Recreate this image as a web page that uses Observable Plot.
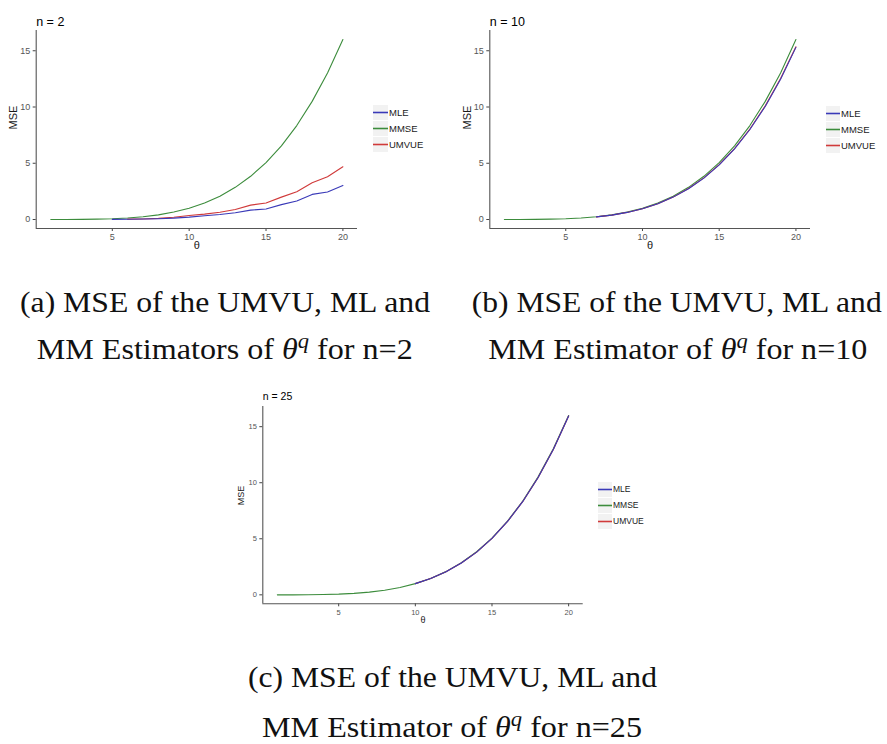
<!DOCTYPE html>
<html>
<head>
<meta charset="utf-8">
<script src="https://cdn.jsdelivr.net/npm/d3@7"></script>
<script src="https://cdn.jsdelivr.net/npm/@observablehq/plot@0.6"></script>
<style>
  body { margin: 0; background: #fff; }
  #root { position: relative; width: 887px; height: 744px; overflow: hidden; font-family: "Liberation Sans", Arial, sans-serif; }
  .panel { position: absolute; }
  .overlay { position: absolute; left: 0; top: 0; }
</style>
</head>
<body>
<div id="root"></div>
<script>
// ---------- data ----------
const theta = [1, 2, 3, 4, 5, 6, 7, 8, 9, 10, 11, 12, 13, 14, 15, 16, 17, 18, 19, 20];
const seriesNames = ["MLE", "MMSE", "UMVUE"];
const seriesColors = ["#3a3ab8", "#3c8c3c", "#d03a3a"];
const xTicks = [5, 10, 15, 20];
const yTicks = [0, 5, 10, 15];
const panelTitles = ["n = 2", "n = 10", "n = 25"];

// n = 2
const mmse_n2  = [0, 0, 0.01, 0.03, 0.06, 0.13, 0.24, 0.41, 0.66, 1.00, 1.46, 2.07, 2.86, 3.84, 5.06, 6.55, 8.35, 10.50, 13.03, 16.00];
const mle_n2   = [null, null, null, null, 0.01, 0.02, 0.04, 0.07, 0.12, 0.21, 0.34, 0.45, 0.60, 0.83, 0.93, 1.32, 1.64, 2.23, 2.44, 3.03];
const umvue_n2 = [null, null, null, null, null, 0.03, 0.05, 0.10, 0.20, 0.35, 0.48, 0.65, 0.89, 1.28, 1.47, 1.99, 2.47, 3.27, 3.80, 4.69];
// n = 10
const mmse_n10  = [0, 0, 0.01, 0.03, 0.06, 0.13, 0.24, 0.41, 0.66, 1.00, 1.46, 2.07, 2.86, 3.84, 5.06, 6.55, 8.35, 10.50, 13.03, 16.00];
const mle_n10   = [null, null, null, null, null, null, 0.23, 0.39, 0.63, 0.96, 1.40, 1.99, 2.74, 3.68, 4.85, 6.28, 8.00, 10.05, 12.47, 15.30];
const umvue_n10 = [null, null, null, null, null, null, 0.23, 0.39, 0.63, 0.96, 1.40, 1.99, 2.75, 3.70, 4.88, 6.31, 8.04, 10.10, 12.53, 15.36];
// n = 25
const mmse_n25  = [0, 0, 0.01, 0.03, 0.06, 0.13, 0.24, 0.41, 0.66, 1.00, 1.46, 2.07, 2.86, 3.84, 5.06, 6.55, 8.35, 10.50, 13.03, 16.00];
const mle_n25   = [null, null, null, null, null, null, null, null, null, 1.00, 1.45, 2.06, 2.84, 3.81, 5.03, 6.52, 8.31, 10.45, 12.97, 15.95];
const umvue_n25 = [null, null, null, null, null, null, null, null, null, 1.00, 1.45, 2.06, 2.84, 3.81, 5.03, 6.52, 8.31, 10.45, 12.97, 15.95];

// ---------- build rows ----------
function rowsFor(mle, mmse, umvue) {
  const rows = [];
  // draw order: MMSE, UMVUE, MLE (MLE on top)
  for (const [name, vals] of [["MMSE", mmse], ["UMVUE", umvue], ["MLE", mle]]) {
    vals.forEach((v, i) => { if (v != null) rows.push({theta: theta[i], mse: v, series: name}); });
  }
  return rows;
}

const panels = [
  {rows: rowsFor(mle_n2, mmse_n2, umvue_n2), title: panelTitles[0], left: 0, top: 0, width: 440, height: 260,
   ml: 35.7, mr: 83, mt: 30, mb: 32,
   fs: {tick: 9, title: 12.5, label: 11}, labelDx: -22.7, labelDy: 20, titleDy: -5,
   legend: {left: 373, top: 105, keyW: 15, keyH: 15, pitch: 16, font: 9.5}},
  {rows: rowsFor(mle_n10, mmse_n10, umvue_n10), title: panelTitles[1], left: 440, top: 0, width: 447, height: 260,
   ml: 49.3, mr: 77, mt: 30, mb: 32,
   fs: {tick: 9, title: 12.5, label: 11}, labelDx: -22.7, labelDy: 20, titleDy: -5,
   legend: {left: 826, top: 106, keyW: 14, keyH: 15, pitch: 16, font: 9.5}},
  {rows: rowsFor(mle_n25, mmse_n25, umvue_n25), title: panelTitles[2], left: 200, top: 380, width: 450, height: 260,
   ml: 62.3, mr: 67.3, mt: 26, mb: 36.7,
   fs: {tick: 7.5, title: 10.5, label: 9}, labelDx: -22, labelDy: 19.5, titleDy: -7,
   legend: {left: 598, top: 482, keyW: 14, keyH: 15, pitch: 16, font: 8.5}}
];

const root = document.getElementById("root");
const NS = "http://www.w3.org/2000/svg";
const overlay = document.createElementNS(NS, "svg");
overlay.setAttribute("class", "overlay");
overlay.setAttribute("width", 887);
overlay.setAttribute("height", 744);

for (const p of panels) {
  const chart = Plot.plot({
    width: p.width,
    height: p.height,
    marginLeft: p.ml,
    marginRight: p.mr,
    marginTop: p.mt,
    marginBottom: p.mb,
    style: {background: "transparent", overflow: "visible", fontFamily: "Liberation Sans, Arial, sans-serif"},
    x: {domain: [0.05, 20.95]},
    y: {domain: [-0.8, 16.8]},
    color: {domain: seriesNames, range: seriesColors},
    marks: [
      Plot.axisX(xTicks, {tickSize: 3, tickPadding: 2.5, fontSize: p.fs.tick, stroke: "#444", fill: "#555", label: null}),
      Plot.axisY(yTicks, {tickSize: 3, tickPadding: 3, fontSize: p.fs.tick, stroke: "#444", fill: "#555", label: null}),
      Plot.ruleX([0.05], {stroke: "#555", strokeWidth: 1.1}),
      Plot.ruleY([-0.8], {stroke: "#555", strokeWidth: 1.1}),
      Plot.line(p.rows, {x: "theta", y: "mse", z: "series", stroke: "series", strokeWidth: 1.1}),
      Plot.text([p.title], {text: d => d, frameAnchor: "top-left", textAnchor: "start", lineAnchor: "bottom", dy: p.titleDy, fontSize: p.fs.title, fill: "#000"}),
      Plot.text(["MSE"], {text: d => d, frameAnchor: "left", rotate: -90, dx: p.labelDx, fontSize: p.fs.label, fill: "#1a1a1a"}),
      Plot.text(["θ"], {text: d => d, frameAnchor: "bottom", dy: p.labelDy, fontSize: p.fs.label, fill: "#1a1a1a"})
    ]
  });
  const wrap = document.createElement("div");
  wrap.className = "panel";
  wrap.style.left = p.left + "px";
  wrap.style.top = p.top + "px";
  wrap.appendChild(chart);
  root.appendChild(wrap);

  // legend (svg)
  const L = p.legend;
  seriesNames.forEach((name, i) => {
    const y0 = L.top + i * L.pitch;
    const bg = document.createElementNS(NS, "rect");
    bg.setAttribute("x", L.left);
    bg.setAttribute("y", y0);
    bg.setAttribute("width", L.keyW);
    bg.setAttribute("height", L.keyH);
    bg.setAttribute("fill", "#f2f2f2");
    overlay.appendChild(bg);
    const ln = document.createElementNS(NS, "line");
    ln.setAttribute("x1", L.left);
    ln.setAttribute("x2", L.left + L.keyW);
    ln.setAttribute("y1", y0 + L.keyH / 2);
    ln.setAttribute("y2", y0 + L.keyH / 2);
    ln.setAttribute("stroke", seriesColors[i]);
    ln.setAttribute("stroke-width", 1.6);
    overlay.appendChild(ln);
    const tx = document.createElementNS(NS, "text");
    tx.setAttribute("x", L.left + L.keyW + 1);
    tx.setAttribute("y", y0 + L.keyH / 2);
    tx.setAttribute("dy", "0.35em");
    tx.setAttribute("font-family", "Liberation Sans, Arial, sans-serif");
    tx.setAttribute("font-size", L.font);
    tx.setAttribute("fill", "#1a1a1a");
    tx.textContent = name;
    overlay.appendChild(tx);
  });
}

// ---------- captions ----------
const captions = [
  {x: 20, y: 311.7, w: 410, parts: [["(a) MSE of the UMVU, ML and"]]},
  {x: 36.7, y: 358.5, w: 376, parts: [["MM Estimators of "], ["θ", "i"], ["q", "sup"], [" for n=2"]]},
  {x: 471.7, y: 311.7, w: 410, parts: [["(b) MSE of the UMVU, ML and"]]},
  {x: 488.3, y: 358.5, w: 379, parts: [["MM Estimator of "], ["θ", "i"], ["q", "sup"], [" for n=10"]]},
  {x: 248, y: 687.3, w: 409, parts: [["(c) MSE of the UMVU, ML and"]]},
  {x: 262, y: 737.3, w: 380, parts: [["MM Estimator of "], ["θ", "i"], ["q", "sup"], [" for n=25"]]}
];
for (const c of captions) {
  const t = document.createElementNS(NS, "text");
  t.setAttribute("x", c.x);
  t.setAttribute("y", c.y);
  t.setAttribute("font-family", "'Liberation Serif', 'Times New Roman', serif");
  t.setAttribute("font-size", 30);
  t.setAttribute("fill", "#111");
  t.setAttribute("textLength", c.w);
  t.setAttribute("lengthAdjust", "spacingAndGlyphs");
  let raised = false;
  for (const [str, kind] of c.parts) {
    const ts = document.createElementNS(NS, "tspan");
    ts.textContent = str;
    if (kind === "i") ts.setAttribute("font-style", "italic");
    if (kind === "sup") {
      ts.setAttribute("font-style", "italic");
      ts.setAttribute("font-size", 21);
      ts.setAttribute("dy", -11);
      raised = true;
    } else if (raised) {
      ts.setAttribute("dy", 11);
      raised = false;
    }
    t.appendChild(ts);
  }
  overlay.appendChild(t);
}
root.appendChild(overlay);
</script>
</body>
</html>
